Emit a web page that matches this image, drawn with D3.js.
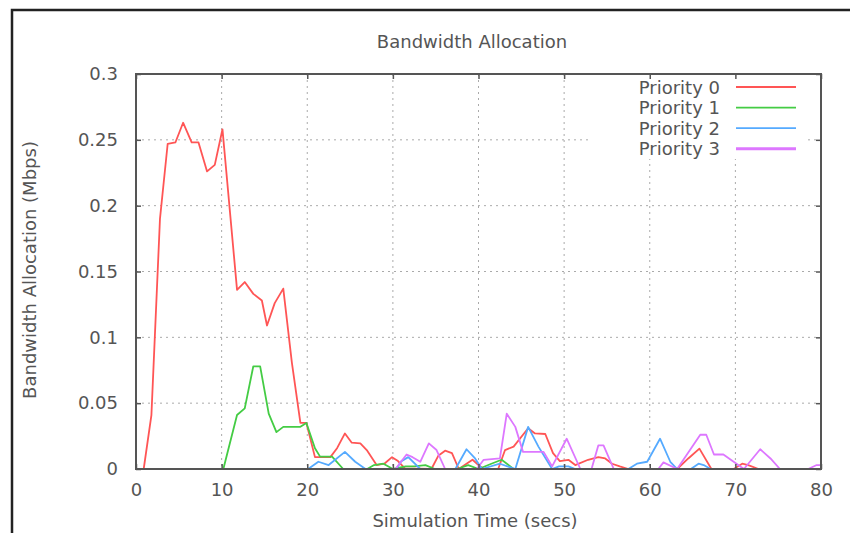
<!DOCTYPE html>
<html>
<head>
<meta charset="utf-8">
<script src="https://cdn.jsdelivr.net/npm/d3@7"></script>
<style>
  body { margin: 0; background: #fff; }
  text { font-family: "DejaVu Sans", sans-serif; fill: #555; }
</style>
</head>
<body>
<script>
// values: [time (secs), bandwidth (Mbps)]
var priority0 = [[0,0],[0.9,0],[1.8,0.041],[2.8,0.19],[3.7,0.247],[4.6,0.248],[5.5,0.263],[6.5,0.248],
  [7.3,0.248],[8.3,0.226],[9.2,0.231],[10.1,0.258],[11.8,0.136],[12.7,0.142],[13.7,0.133],[14.7,0.128],
  [15.3,0.109],[16.2,0.126],[17.2,0.137],[18.2,0.081],[19.2,0.035],[19.9,0.035],[20.9,0.009],[22.7,0.009],
  [23.5,0.016],[24.4,0.027],[25.2,0.020],[26.2,0.0195],[26.95,0.0144],[28.1,0.003],[29.0,0.004],[29.9,0.009],
  [30.6,0.006],[31.4,0.0005],[34.5,0],[35.3,0.010],[36.1,0.0139],[36.9,0.012],[37.7,0],[38.6,0.004],
  [39.3,0.007],[40.0,0.003],[40.6,0],[42.3,0],[43.1,0.0144],[44.1,0.017],[45.8,0.031],[46.6,0.027],
  [47.8,0.0266],[48.7,0.012],[49.5,0.006],[50.5,0.007],[51.3,0.003],[52.8,0.007],[54.0,0.009],[54.8,0.008],
  [55.6,0.004],[56.5,0.002],[57.5,0],[63.2,0],[64.5,0.008],[65.8,0.0155],[67.2,0],[69.8,0],[70.8,0.004],
  [71.5,0.003],[72.7,0],[80,0]];

var priority1 = [[0,0],[10.2,0],[11.8,0.041],[12.7,0.046],[13.7,0.078],[14.5,0.078],[15.5,0.042],[16.4,0.028],
  [17.2,0.032],[19.2,0.032],[19.9,0.035],[20.9,0.0157],[21.5,0.0094],[22.9,0.0094],[24.2,0],[27.0,0],
  [27.8,0.003],[28.9,0.004],[30.0,0],[31.5,0.002],[32.5,0.002],[33.8,0.003],[34.9,0],[37.5,0],[38.8,0.003],
  [40.0,0],[41.5,0.004],[42.7,0.007],[44.1,0],[80,0]];

var priority2 = [[0,0],[20.1,0],[21.3,0.0055],[22.5,0.003],[24.4,0.013],[25.6,0.0055],[26.8,0],[30.4,0],
  [31.0,0.006],[31.8,0.009],[33.2,0],[37.3,0],[38.6,0.015],[39.6,0.008],[40.4,0],[42.5,0.004],[44.3,0],
  [45.8,0.032],[47.0,0.017],[48.6,0],[49.4,0.002],[50.5,0.002],[51.3,0],[57.5,0],[58.5,0.004],[59.7,0.0055],
  [61.2,0.023],[62.4,0.0055],[63.2,0],[64.8,0],[65.7,0.004],[66.3,0.003],[67.1,0],[80,0]];

var priority3 = [[0,0],[30.3,0],[31.6,0.011],[32.3,0.009],[33.2,0.0055],[34.2,0.0195],[35.1,0.0144],[36.1,0],
  [39.8,0],[40.6,0.007],[42.5,0.008],[43.3,0.042],[44.3,0.032],[45.2,0.013],[47.6,0.013],[48.6,0.002],
  [50.3,0.023],[51.9,0],[53.2,0],[54.0,0.018],[54.6,0.018],[55.8,0],[61.0,0],[61.6,0.005],[63.2,0],
  [65.9,0.026],[66.6,0.026],[67.5,0.011],[68.6,0.011],[69.8,0.0055],[71.0,0],[72.9,0.015],[74.1,0.008],
  [75.2,0],[78.5,0],[79.5,0.003],[80,0.003]];

var seriesNames = ['Priority 0', 'Priority 1', 'Priority 2', 'Priority 3'];
var seriesData = [priority0, priority1, priority2, priority3];
var seriesColors = ['#ff5555', '#44cc44', '#55aaff', '#dd77ff'];

var xTicks = [0, 10, 20, 30, 40, 50, 60, 70, 80];
var yTicks = [0, 0.05, 0.1, 0.15, 0.2, 0.25, 0.3];

var width = 850,
    height = 533;

var plotLeft = 136, plotRight = 821, plotTop = 74, plotBottom = 469;

var svg = d3.select('body')
  .append('svg')
  .attr('width', width)
  .attr('height', height);

svg.append('rect')
  .attr('width', width).attr('height', height)
  .attr('fill', '#fff');

// outer frame, runs off the picture on the right and bottom
svg.append('rect')
  .attr('x', 12).attr('y', 10)
  .attr('width', 860).attr('height', 560)
  .attr('fill', 'none')
  .attr('stroke', '#222')
  .attr('stroke-width', 2.5);

var x = d3.scaleLinear().domain([0, 80]).range([plotLeft, plotRight]);
var y = d3.scaleLinear().domain([0, 0.3]).range([plotBottom, plotTop]);

// grid
var grid = svg.append('g')
  .attr('stroke', '#aaa')
  .attr('stroke-width', 1)
  .attr('stroke-dasharray', '2,4');

grid.selectAll('.gx')
  .data(xTicks.slice(1, -1))
  .enter().append('line')
  .attr('x1', function(d) { return x(d); })
  .attr('x2', function(d) { return x(d); })
  .attr('y1', plotTop).attr('y2', plotBottom);

grid.selectAll('.gy')
  .data(yTicks.slice(1, -1))
  .enter().append('line')
  .attr('y1', function(d) { return y(d); })
  .attr('y2', function(d) { return y(d); })
  .attr('x1', plotLeft).attr('x2', plotRight);

// legend box hides the grid under it
svg.append('rect')
  .attr('x', 592).attr('y', plotTop + 1)
  .attr('width', 214).attr('height', 84)
  .attr('fill', '#fff');

var line = d3.line()
  .x(function(d) { return x(d[0]); })
  .y(function(d) { return y(d[1]); });

svg.append('g')
  .selectAll('path')
  .data(seriesData)
  .enter().append('path')
  .attr('d', line)
  .attr('fill', 'none')
  .attr('stroke', function(d, i) { return seriesColors[i]; })
  .attr('stroke-width', 1.8)
  .attr('stroke-linejoin', 'round');

// axes, ticks pointing inward on all four sides
function styleAxis(g) {
  g.select('.domain').remove();
  g.selectAll('.tick line').attr('stroke', '#555').attr('stroke-width', 1.5);
  g.selectAll('.tick text')
    .attr('fill', '#555')
    .style('font-family', '"DejaVu Sans", sans-serif')
    .style('font-size', '18px');
}

svg.append('g')
  .attr('transform', 'translate(0,' + plotBottom + ')')
  .call(d3.axisBottom(x).tickValues(xTicks).tickSize(-5).tickPadding(14))
  .call(styleAxis);

svg.append('g')
  .attr('transform', 'translate(0,' + plotTop + ')')
  .call(d3.axisTop(x).tickValues(xTicks).tickSize(-5).tickFormat(''))
  .call(styleAxis);

svg.append('g')
  .attr('transform', 'translate(' + plotLeft + ',0)')
  .call(d3.axisLeft(y).tickValues(yTicks).tickSize(-5).tickPadding(18)
    .tickFormat(function(d) { return d3.format('~g')(d); }))
  .call(styleAxis);

svg.append('g')
  .attr('transform', 'translate(' + plotRight + ',0)')
  .call(d3.axisRight(y).tickValues(yTicks).tickSize(-5).tickFormat(''))
  .call(styleAxis);

svg.append('rect')
  .attr('x', plotLeft).attr('y', plotTop)
  .attr('width', plotRight - plotLeft).attr('height', plotBottom - plotTop)
  .attr('fill', 'none')
  .attr('stroke', '#555')
  .attr('stroke-width', 2);

// legend
var legend = svg.append('g')
  .selectAll('g')
  .data(seriesNames)
  .enter().append('g')
  .attr('transform', function(d, i) { return 'translate(0,' + (87 + i * 20.6) + ')'; });

legend.append('text')
  .attr('x', 720)
  .attr('y', 6.5)
  .attr('text-anchor', 'end')
  .style('font-size', '18px')
  .text(function(d) { return d; });

legend.append('line')
  .attr('x1', 736).attr('x2', 796)
  .attr('stroke', function(d, i) { return seriesColors[i]; })
  .attr('stroke-width', function(d, i) { return i === 3 ? 3 : 1.8; });

// titles
svg.append('text')
  .attr('x', 472).attr('y', 48)
  .attr('text-anchor', 'middle')
  .style('font-size', '18px')
  .text('Bandwidth Allocation');

svg.append('text')
  .attr('x', 475).attr('y', 527)
  .attr('text-anchor', 'middle')
  .style('font-size', '18px')
  .text('Simulation Time (secs)');

svg.append('text')
  .attr('transform', 'translate(36,270) rotate(-90)')
  .attr('text-anchor', 'middle')
  .style('font-size', '18px')
  .text('Bandwidth Allocation (Mbps)');
</script>
</body>
</html>
